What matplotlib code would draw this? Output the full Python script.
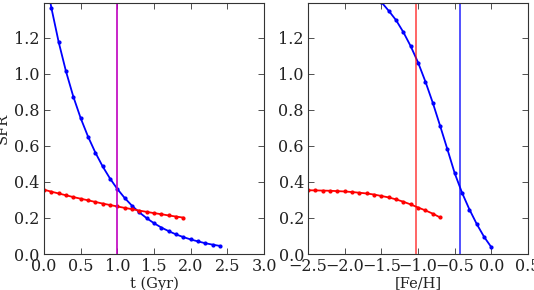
import numpy as np
import matplotlib
matplotlib.use('Agg')
import matplotlib.pyplot as plt

plt.rcParams['font.family'] = 'DejaVu Serif'
plt.rcParams['mathtext.fontset'] = 'dejavuserif'

# left panel: SFR vs time
t_blue = [0.0, 0.1, 0.2, 0.3, 0.4, 0.5, 0.6, 0.7, 0.8, 0.9, 1.0, 1.1, 1.2,
          1.3, 1.4, 1.5, 1.6, 1.7, 1.8, 1.9, 2.0, 2.1, 2.2, 2.3, 2.4]
sfr_blue = [1.59, 1.367, 1.176, 1.013, 0.873, 0.754, 0.652, 0.563, 0.486, 0.419,
            0.361, 0.311, 0.268, 0.231, 0.199, 0.171, 0.147, 0.127, 0.109,
            0.094, 0.081, 0.070, 0.060, 0.052, 0.045]
t_red = [0.0, 0.1, 0.2, 0.3, 0.4, 0.5, 0.6, 0.7, 0.8, 0.9, 1.0, 1.1, 1.2,
         1.3, 1.4, 1.5, 1.6, 1.7, 1.8, 1.9]
sfr_red = [0.357, 0.346, 0.336, 0.326, 0.316, 0.307, 0.298, 0.289, 0.280,
           0.272, 0.264, 0.256, 0.249, 0.241, 0.234, 0.227, 0.221, 0.214,
           0.208, 0.202]
t_line = 1.0

# right panel: SFR vs [Fe/H]
feh_blue = [-1.6, -1.5, -1.4, -1.3, -1.2, -1.1, -1.0, -0.9, -0.8, -0.7, -0.6,
            -0.5, -0.4, -0.3, -0.2, -0.1, 0.0]
sfrf_blue = [1.44, 1.397, 1.349, 1.297, 1.230, 1.152, 1.062, 0.956, 0.839,
             0.711, 0.580, 0.447, 0.339, 0.247, 0.166, 0.095, 0.037]
feh_red = [-2.5, -2.4, -2.3, -2.2, -2.1, -2.0, -1.9, -1.8, -1.7, -1.6, -1.5,
           -1.4, -1.3, -1.2, -1.1, -1.0, -0.9, -0.8, -0.7]
sfrf_red = [0.354, 0.353, 0.352, 0.351, 0.349, 0.347, 0.344, 0.340, 0.336,
            0.330, 0.322, 0.314, 0.303, 0.290, 0.275, 0.258, 0.242, 0.224, 0.203]
feh_red_line = -1.035
feh_blue_line = -0.43

fig = plt.figure(figsize=(5.34, 2.9), dpi=100)
ax1 = fig.add_axes([0.0824, 0.124, 0.412, 0.864])
ax2 = fig.add_axes([0.577, 0.124, 0.412, 0.864])

ax1.plot(t_blue, sfr_blue, 'b.-', ms=4, lw=1.3)
ax1.plot(t_red, sfr_red, 'r.-', ms=4, lw=1.3)
ax1.axvline(t_line, color='m', lw=1.2)
ax1.set_xlim(0, 3)
ax1.set_ylim(0, 1.39)
ax1.set_xlabel('t (Gyr)', labelpad=1)
ax1.set_ylabel('SFR', labelpad=3)

ax2.plot(feh_blue, sfrf_blue, 'b.-', ms=4, lw=1.3)
ax2.plot(feh_red, sfrf_red, 'r.-', ms=4, lw=1.3)
ax2.axvline(feh_red_line, color='r', alpha=0.7, lw=1.2)
ax2.axvline(feh_blue_line, color='b', alpha=0.8, lw=1.2)
ax2.set_xlim(-2.5, 0.5)
ax2.set_ylim(0, 1.39)
ax2.set_xlabel('[Fe/H]', labelpad=1)

for ax in (ax1, ax2):
    ax.set_xticks(np.arange(ax.get_xlim()[0], ax.get_xlim()[1] + 0.01, 0.5))
    ax.set_yticks([0.0, 0.2, 0.4, 0.6, 0.8, 1.0, 1.2])
    ax.tick_params(direction='in', top=True, right=True, labelsize=11.5,
                   length=4, width=0.6, pad=3, colors='#333333',
                   labelcolor='#222222')
    for s in ax.spines.values():
        s.set_linewidth(0.8)
        s.set_color('#333333')
    ax.xaxis.label.set_size(10.5)
    ax.yaxis.label.set_size(10.5)
    ax.xaxis.label.set_color('#222222')
    ax.yaxis.label.set_color('#222222')

fig.savefig('out.png', dpi=100)
